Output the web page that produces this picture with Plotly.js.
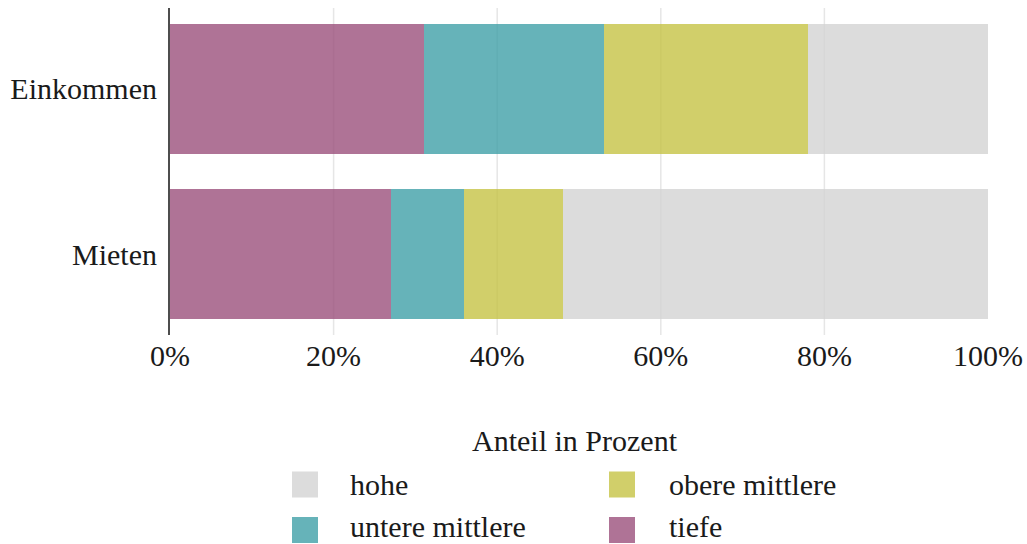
<!DOCTYPE html>
<html>
<head>
<meta charset="utf-8">
<script src="https://cdn.plot.ly/plotly-3.0.1.min.js"></script>
<style>html,body{margin:0;padding:0;background:#fff;}#chart{width:1027px;height:544px;}</style>
</head>
<body>
<div id="chart"></div>
<script>
// ---- data ----
const categories = ["Mieten", "Einkommen"];
const seriesNames = ["tiefe", "untere mittlere", "obere mittlere", "hohe"];
const tiefe = [27, 31];
const untereMittlere = [9, 22];
const obereMittlere = [12, 25];
const hohe = [52, 22];
const tickValues = [0, 20, 40, 60, 80, 100];
const tickLabels = ["0%", "20%", "40%", "60%", "80%", "100%"];
const legendTitle = "Anteil in Prozent";
const legendOrder = ["hohe", "obere mittlere", "untere mittlere", "tiefe"];

// ---- styles ----
const colors = {
  "tiefe": "rgba(155,80,124,0.8)",
  "untere mittlere": "rgba(64,160,168,0.8)",
  "obere mittlere": "rgba(198,195,69,0.8)",
  "hohe": "rgba(211,211,211,0.8)"
};
const FONT = "Liberation Serif";
const W = 1027, H = 544;
const M = {l: 170, r: 39, t: 8, b: 209};
const plotW = W - M.l - M.r, plotH = H - M.t - M.b;
const px = x => (x - M.l) / plotW;
const py = y => (H - M.b - y) / plotH;

const values = {"tiefe": tiefe, "untere mittlere": untereMittlere, "obere mittlere": obereMittlere, "hohe": hohe};
const traces = seriesNames.map(name => ({
  type: "bar",
  orientation: "h",
  name: name,
  y: categories,
  x: values[name],
  width: 0.79,
  marker: {color: colors[name], line: {width: 0}},
  hoverinfo: "name+x"
}));

const shapes = [];
// vertical grid lines at inner tick values
tickValues.filter(v => v > 0 && v < 100).forEach(v => {
  shapes.push({type: "line", xref: "x", yref: "paper", x0: v, x1: v, y0: 0, y1: 1,
    line: {color: "#e6e6e6", width: 1.5}, layer: "below"});
});

const annotations = [];
annotations.push({text: legendTitle, xref: "paper", yref: "paper", x: px(575), y: py(440),
  xanchor: "center", yanchor: "middle", showarrow: false, font: {family: FONT, size: 30, color: "#1a1a1a"}});
const colLeft = [292, 609], textLeft = [348, 667];
const keyCenter = [484.5, 530], textCenter = [484.5, 526];
const keyW = 26, keyH = 26;
legendOrder.forEach((name, i) => {
  const c = i % 2, r = Math.floor(i / 2);
  shapes.push({type: "rect", xref: "paper", yref: "paper",
    x0: px(colLeft[c]), x1: px(colLeft[c] + keyW),
    y0: py(keyCenter[r] + keyH / 2), y1: py(keyCenter[r] - keyH / 2),
    fillcolor: colors[name], line: {width: 0}});
  annotations.push({text: name, xref: "paper", yref: "paper", x: px(textLeft[c]), y: py(textCenter[r]),
    xanchor: "left", yanchor: "middle", showarrow: false, font: {family: FONT, size: 30, color: "#1a1a1a"}});
});

const layout = {
  width: W, height: H,
  margin: M,
  paper_bgcolor: "#ffffff", plot_bgcolor: "#ffffff",
  barmode: "stack",
  showlegend: false,
  font: {family: FONT, size: 30, color: "#1a1a1a"},
  xaxis: {
    range: [0, 100], tickvals: tickValues, ticktext: tickLabels,
    showgrid: false, zeroline: false, showline: false, ticks: "",
    tickfont: {family: FONT, size: 30, color: "#1a1a1a"}, fixedrange: true
  },
  yaxis: {
    type: "category", categoryarray: categories, categoryorder: "array",
    range: [-0.49, 1.49],
    showgrid: false, zeroline: false, showline: true, linecolor: "#4d4d4d", linewidth: 2,
    ticks: "", ticklabelstandoff: 5,
    tickfont: {family: FONT, size: 30, color: "#1a1a1a"}, fixedrange: true
  },
  shapes: shapes,
  annotations: annotations
};

Plotly.newPlot("chart", traces, layout, {displayModeBar: false, staticPlot: true});
</script>
</body>
</html>
